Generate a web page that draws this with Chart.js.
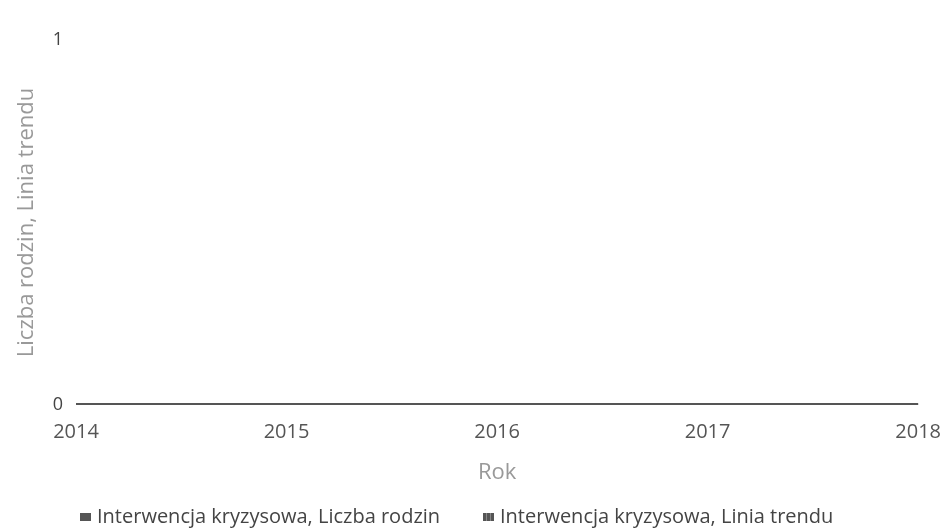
<!DOCTYPE html>
<html>
<head>
<meta charset="utf-8">
<script src="https://cdn.jsdelivr.net/npm/chart.js@4"></script>
<style>
  html, body { margin: 0; padding: 0; background: #fff; }
  #wrap { position: relative; width: 948px; height: 531px; }
  #legend { position: absolute; left: 0; top: 504px; width: 948px; height: 24px;
            font-family: 'Open Sans', sans-serif; font-size: 20px; color: #444; }
  #legend .item { position: absolute; top: 0; line-height: 24px; white-space: nowrap; }
  #legend .box { display: inline-block; width: 11px; height: 8px; margin-right: 6px; vertical-align: 2px; }
</style>
</head>
<body>
<div id="wrap">
  <canvas id="chart"></canvas>
  <div id="legend"></div>
</div>
<script>
const years = ["2014", "2015", "2016", "2017", "2018"];
const liczbaRodzin = [0, 0, 0, 0, 0];
const liniaTrendu = [0, 0, 0, 0, 0];
const yTicks = [0, 1];
const seriesNames = ["Interwencja kryzysowa, Liczba rodzin", "Interwencja kryzysowa, Linia trendu"];

const chart = new Chart(document.getElementById("chart"), {
    type: 'line',
    data: {
      labels: years,
      datasets: [{
        label: seriesNames[0],
        data: liczbaRodzin,
        borderColor: '#555555',
        backgroundColor: '#555555',
        borderWidth: 4,
        pointRadius: 0,
        tension: 0
      }, {
        label: seriesNames[1],
        data: liniaTrendu,
        borderColor: '#666666',
        backgroundColor: '#666666',
        borderWidth: 3,
        borderDash: [6, 2],
        pointRadius: 0,
        tension: 0
      }]
    },
    options: {
      responsive: true,
      maintainAspectRatio: false,
      animation: false,
      layout: { padding: { left: 0, right: 25, top: 40, bottom: 41 } },
      plugins: {
        legend: { display: false },
        tooltip: { enabled: false }
      },
      scales: {
        x: {
          offset: false,
          grid: { display: false },
          border: { display: false },
          afterFit: function (axis) { axis.height = 85; },
          ticks: { color: '#555', font: { family: 'Open Sans', size: 20 }, maxRotation: 0, padding: 7 },
          title: { display: true, text: 'Rok', color: '#999', font: { family: 'Open Sans', size: 22 }, padding: { top: 0, bottom: 4 } }
        },
        y: {
          min: 0,
          max: 1,
          afterBuildTicks: function (axis) {
            axis.ticks = yTicks.map(v => ({ value: v }));
          },
          afterFit: function (axis) { axis.width = 76; },
          grid: { display: false },
          border: { display: false },
          ticks: { color: '#444', font: { family: 'Open Sans', size: 18 }, padding: 5 },
          title: { display: true, text: 'Liczba rodzin, Linia trendu', color: '#999', font: { family: 'Open Sans', size: 22 }, padding: { top: 14, bottom: 0 } }
        }
      }
    }
});

// legend written as HTML so the item spacing can match the reference
const legendLeft = [80, 483];
const legendEl = document.getElementById('legend');
chart.data.datasets.forEach((ds, i) => {
  const item = document.createElement('span');
  item.className = 'item';
  item.style.left = legendLeft[i] + 'px';
  const box = document.createElement('span');
  box.className = 'box';
  box.style.background = i === 0 ? ds.borderColor
    : 'repeating-linear-gradient(90deg, #555 0 3px, #888 3px 4px)';
  item.appendChild(box);
  item.appendChild(document.createTextNode(ds.label));
  legendEl.appendChild(item);
});
</script>
</body>
</html>
